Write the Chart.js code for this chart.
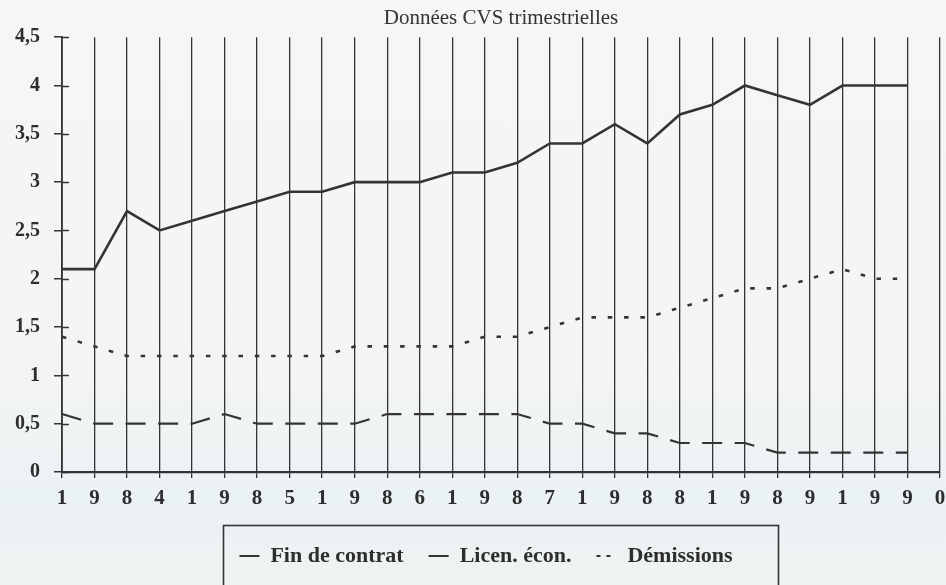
<!DOCTYPE html>
<html>
<head>
<meta charset="utf-8">
<script src="https://cdn.jsdelivr.net/npm/chart.js@4"></script>
<style>
  html, body { margin: 0; padding: 0; }
  body { width: 946px; height: 585px; background: linear-gradient(#f6f6f4 0%, #f4f5f3 62%, #ebf2f5 84%, #eef3f2 100%); }
</style>
</head>
<body>
<canvas id="flowChart" width="946" height="585"></canvas>
<script>
// quarters 1984 T1 -> 1990 T4, the year is spelled one digit per tick
var quarterLabels = ["1", "9", "8", "4", "1", "9", "8", "5", "1", "9", "8", "6", "1", "9",
                     "8", "7", "1", "9", "8", "8", "1", "9", "8", "9", "1", "9", "9", "0"];

// series (last quarter has no value)
var finContrat = [2.1, 2.1, 2.7, 2.5, 2.6, 2.7, 2.8, 2.9, 2.9, 3.0, 3.0, 3.0, 3.1, 3.1,
                  3.2, 3.4, 3.4, 3.6, 3.4, 3.7, 3.8, 4.0, 3.9, 3.8, 4.0, 4.0, 4.0, null];
var licenEcon = [0.6, 0.5, 0.5, 0.5, 0.5, 0.6, 0.5, 0.5, 0.5, 0.5, 0.6, 0.6, 0.6, 0.6,
                 0.6, 0.5, 0.5, 0.4, 0.4, 0.3, 0.3, 0.3, 0.2, 0.2, 0.2, 0.2, 0.2, null];
var demissions = [1.4, 1.3, 1.2, 1.2, 1.2, 1.2, 1.2, 1.2, 1.2, 1.3, 1.3, 1.3, 1.3, 1.4,
                  1.4, 1.5, 1.6, 1.6, 1.6, 1.7, 1.8, 1.9, 1.9, 2.0, 2.1, 2.0, 2.0, null];

var ink = "#343434";
var serif = "'Liberation Serif', 'Times New Roman', serif";

// little ticks on the inner side of the y axis
var innerTicks = {
  id: "innerTicks",
  afterDatasetsDraw: function (chart) {
    var y = chart.scales.y, ctx = chart.ctx;
    ctx.save();
    ctx.strokeStyle = ink;
    ctx.lineWidth = 1.5;
    y.ticks.forEach(function (t) {
      var py = Math.round(y.getPixelForValue(t.value)) + 0.5;
      ctx.beginPath();
      ctx.moveTo(y.right, py);
      ctx.lineTo(y.right + 7, py);
      ctx.stroke();
    });
    ctx.restore();
  }
};

// legend items sit a bit left of the frame centre in the scan
var legendShift = {
  id: "legendShift",
  afterLayout: function (chart) {
    chart.legend.left -= 15;
    chart.legend.right -= 15;
  }
};

// frame round the legend, runs off the bottom like the scan
var legendFrame = {
  id: "legendFrame",
  afterDraw: function (chart) {
    var lg = chart.legend, ctx = chart.ctx;
    var cx = (chart.chartArea.left + chart.chartArea.right) / 2;
    ctx.save();
    ctx.strokeStyle = ink;
    ctx.lineWidth = 1.6;
    ctx.strokeRect(Math.round(cx - 278) + 0.5, Math.round(lg.top + 5) + 0.5, 555, chart.height);
    ctx.restore();
  }
};

var legendDash = [[], [], [4, 6]];

var ctx = document.getElementById("flowChart");
var flowChart = new Chart(ctx, {
  type: "line",
  data: {
    labels: quarterLabels,
    datasets: [
      {
        label: "Fin de contrat",
        data: finContrat,
        borderColor: ink,
        backgroundColor: ink,
        borderWidth: 2.6,
        pointRadius: 0,
        tension: 0
      },
      {
        label: "Licen. écon.",
        data: licenEcon,
        borderColor: ink,
        backgroundColor: ink,
        borderWidth: 2.2,
        borderDash: [20, 12.5],
        pointRadius: 0,
        tension: 0
      },
      {
        label: "Démissions",
        data: demissions,
        borderColor: ink,
        backgroundColor: ink,
        borderWidth: 2.6,
        borderDash: [4.5, 11.8],
        pointRadius: 0,
        tension: 0
      }
    ]
  },
  options: {
    responsive: false,
    animation: false,
    devicePixelRatio: 1,
    layout: { padding: { left: 0, right: 6, top: 0, bottom: 8 } },
    scales: {
      x: {
        offset: false,
        grid: { color: ink, lineWidth: 1.3, tickLength: 6, drawOnChartArea: true },
        border: { color: ink, width: 2.2 },
        ticks: {
          font: { family: serif, size: 21, weight: "bold" },
          color: "#2e2e2e",
          padding: 8,
          maxRotation: 0,
          autoSkip: false
        },
        afterFit: function (s) {
          s.height = 48;
          s.paddingLeft = 0;
          s.paddingRight = 0;
        }
      },
      y: {
        min: 0,
        max: 4.5,
        grid: { drawOnChartArea: false, drawTicks: true, tickLength: 8, color: ink, lineWidth: 1.5 },
        border: { color: ink, width: 1.8 },
        ticks: {
          stepSize: 0.5,
          padding: 14,
          font: { family: serif, size: 20, weight: "bold" },
          color: "#2e2e2e",
          callback: function (v) { return String(v).replace(".", ","); }
        },
        afterFit: function (s) { s.width = 62; }
      }
    },
    plugins: {
      title: {
        display: true,
        fullSize: false,
        text: "Données CVS trimestrielles",
        color: "#333",
        font: { family: serif, size: 21, weight: "normal" },
        padding: { top: 6, bottom: 6 }
      },
      legend: {
        position: "bottom",
        fullSize: false,
        labels: {
          usePointStyle: true,
          pointStyle: "line",
          pointStyleWidth: 20,
          color: "#2e2e2e",
          font: { family: serif, size: 22, weight: "bold" },
          padding: 25,
          generateLabels: function (chart) {
            var items = Chart.defaults.plugins.legend.labels.generateLabels(chart);
            items.forEach(function (it, i) {
              it.lineDash = legendDash[i];
              it.lineWidth = 2;
            });
            return items;
          }
        }
      },
      tooltip: { enabled: false }
    }
  },
  plugins: [innerTicks, legendShift, legendFrame]
});
</script>
</body>
</html>
